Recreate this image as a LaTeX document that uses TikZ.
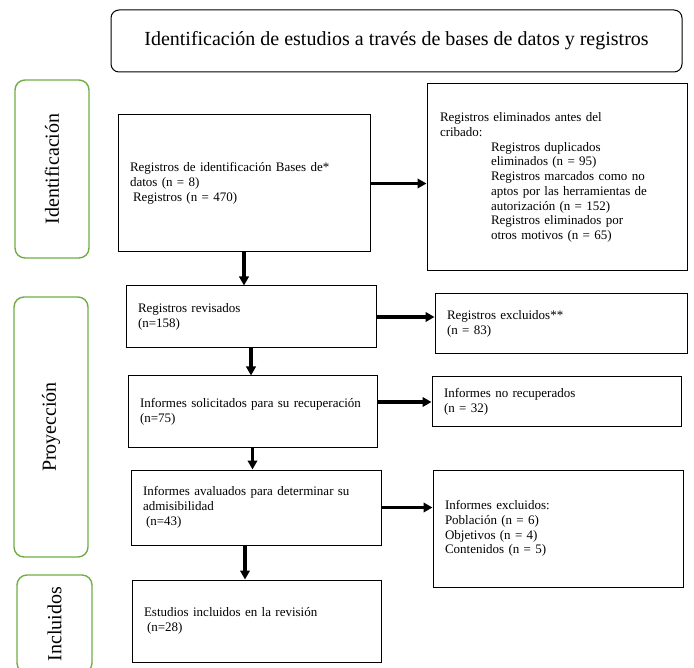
\documentclass[tikz,border=0pt]{standalone}
\usepackage{fontspec}
\setmainfont{Liberation Serif}
\usetikzlibrary{calc}
\usetikzlibrary{arrows.meta}
\definecolor{phasegreen}{RGB}{112,173,71}

\begin{document}
\begin{tikzpicture}[x=1pt,y=-1pt]
\tikzstyle{box}=[draw, line width=1pt, rectangle, align=left, inner xsep=12pt, inner ysep=0pt, font=\fontsize{13}{14.7}\selectfont]
\tikzstyle{phase}=[draw=phasegreen, line width=1.4pt, rectangle, rounded corners=10pt, rotate=90, font=\fontsize{20}{24}\selectfont]
\tikzstyle{flow}=[line width=3.2pt, -{Triangle[length=9pt,width=9.5pt]}]

\useasboundingbox (0,0) rectangle (694,668);
\clip (0,0) rectangle (694,668);

\node (title) at (396.5,41) [draw, line width=1pt, rounded corners=8pt, minimum width=571pt, minimum height=62pt, font=\fontsize{20}{24}\selectfont] {Identificación de estudios a través de bases de datos y registros};

\node (ident) at (52,169) [phase, minimum width=178pt, minimum height=74pt] {Identificación};
\node (proy) at (51,427) [phase, minimum width=260pt, minimum height=74pt] {Proyección};
\node (incl) at (54.5,624) [phase, minimum width=98pt, minimum height=75pt] {Incluidos};

\node (reg) at (244,183.5) [box, text width=228pt, minimum height=137pt] {Registros de identificación Bases de*\\ datos (n = 8)\\ \hspace*{3pt}Registros (n = 470)};
\node (elim) at (557,177.5) [box, inner xsep=13pt, text width=234pt, minimum height=187pt] {Registros eliminados antes del\\ cribado:\\
\hspace*{51pt}Registros duplicados\\
\hspace*{51pt}eliminados (n = 95)\\
\hspace*{51pt}Registros marcados como no\\
\hspace*{51pt}\makebox[183pt][s]{aptos por las herramientas de}\\
\hspace*{51pt}autorización (n = 152)\\
\hspace*{51pt}Registros eliminados por\\
\hspace*{51pt}otros motivos (n = 65)};

\node (rev) at (251,317) [box, text width=226pt, minimum height=62pt] {Registros revisados\\ (n=158)};
\node (excl) at (561,324) [box, text width=228pt, minimum height=60pt] {Registros excluidos**\\ (n = 83)};

\node (sol) at (252.5,412) [box, text width=225pt, minimum height=72pt] {Informes solicitados para su recuperación\\ (n=75)};
\node (norec) at (556.5,402) [box, text width=225pt, minimum height=50pt] {Informes no recuperados\\ (n = 32)};

\node (aval) at (256,507.5) [box, text width=226pt, minimum height=75pt] {Informes avaluados para determinar su\\ admisibilidad\\ \hspace*{3pt}(n=43)};
\node (excl2) at (558,528.5) [box, text width=226pt, minimum height=117pt] {Informes excluidos:\\ Población (n = 6)\\ Objetivos (n = 4)\\ Contenidos (n = 5)};

\node (inc) at (256.5,621) [box, text width=225pt, minimum height=82pt] {Estudios incluidos en la revisión\\ \hspace*{3pt}(n=28)};

\draw[flow] (reg.south) -- (reg.south |- rev.north);
\draw[flow] (reg.east) -- (reg.east -| elim.west);
\draw[flow] (rev.south) -- (rev.south |- sol.north);
\draw[flow] (rev.east) -- (rev.east -| excl.west);
\draw[flow] (sol.south) -- (sol.south |- aval.north);
\draw[flow] (sol.east |- norec.west) -- (norec.west);
\draw[flow] ([xshift=-11pt]aval.south) -- ([xshift=-11pt]aval.south |- inc.north);
\draw[flow] (aval.east) -- (aval.east -| excl2.west);

\end{tikzpicture}
\end{document}
